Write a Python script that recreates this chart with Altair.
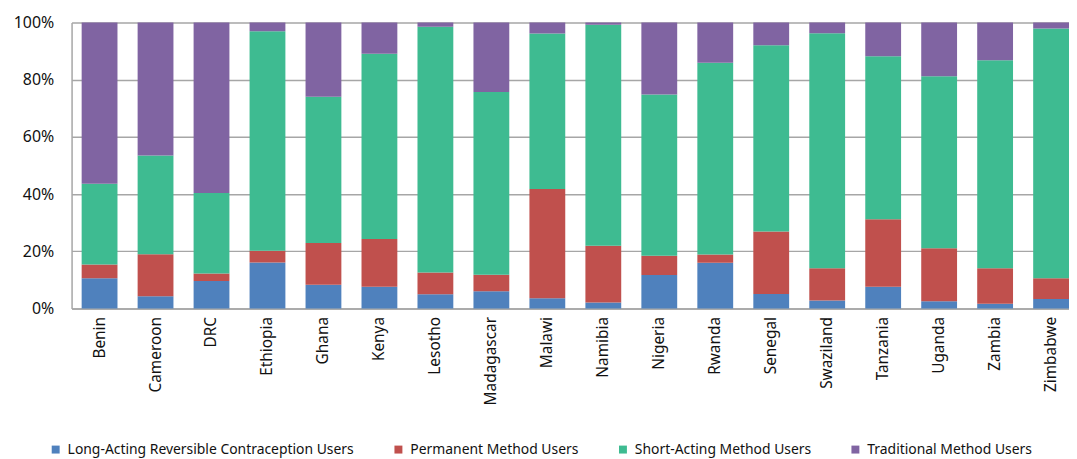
import altair as alt
import pandas as pd

countries = ["Benin", "Cameroon", "DRC", "Ethiopia", "Ghana", "Kenya", "Lesotho",
             "Madagascar", "Malawi", "Namibia", "Nigeria", "Rwanda", "Senegal",
             "Swaziland", "Tanzania", "Uganda", "Zambia", "Zimbabwe"]
series = ["Long-Acting Reversible Contraception Users", "Permanent Method Users",
          "Short-Acting Method Users", "Traditional Method Users"]
larc = [10.6, 4.3, 9.6, 16.1, 8.3, 7.6, 5.0, 6.0, 3.6, 2.1, 11.7, 16.0, 5.1, 2.8, 7.6, 2.5, 1.7, 3.3]
permanent = [4.8, 14.7, 2.6, 4.1, 14.6, 16.7, 7.6, 5.8, 38.2, 19.8, 6.7, 2.9, 21.8, 11.3, 23.6, 18.6, 12.4, 7.3]
short = [28.2, 34.5, 28.2, 76.7, 51.1, 64.7, 85.9, 63.9, 54.3, 77.3, 56.4, 67.0, 65.1, 82.1, 57.0, 60.1, 72.7, 87.3]
traditional = [56.4, 46.5, 59.6, 3.1, 26.0, 11.0, 1.5, 24.3, 3.9, 0.8, 25.2, 14.1, 8.0, 3.8, 11.8, 18.8, 13.2, 2.1]
colors = ["#4F81BD", "#C0504D", "#3EBB91", "#8064A2"]

rows = []
for i, c in enumerate(countries):
    for k, (s, vals) in enumerate(zip(series, [larc, permanent, short, traditional])):
        rows.append({"country": c, "series": s, "value": vals[i], "order": k})
df = pd.DataFrame(rows)

chart = alt.Chart(df).mark_bar().encode(
    x=alt.X("country:N", sort=countries, title=None,
            scale=alt.Scale(paddingInner=0.36, paddingOuter=0.09, align=1),
            axis=alt.Axis(labelAngle=-90, labelFontSize=15.5, labelPadding=8, ticks=False,
                          domainColor="#A6A6A6", domainWidth=1.5, labelColor="#111111",
                          labelFont="Noto Sans")),
    y=alt.Y("value:Q", stack="normalize", title=None,
            scale=alt.Scale(domain=[0, 1]),
            axis=alt.Axis(format=".0%", values=[0, 0.2, 0.4, 0.6, 0.8, 1.0], labelFontSize=16,
                          labelPadding=18, ticks=False, domainColor="#A6A6A6", domainWidth=1.5,
                          gridColor="#A6A6A6", gridWidth=1.5, labelColor="#111111",
                          labelFont="Noto Sans")),
    color=alt.Color("series:N", sort=series, title=None,
                    scale=alt.Scale(domain=series, range=colors),
                    legend=alt.Legend(orient="none", direction="horizontal", legendX=-23,
                                      legendY=423, symbolType="square", symbolSize=64,
                                      symbolStrokeWidth=0, labelFontSize=14, labelFont="Noto Sans",
                                      labelColor="#111111", columnPadding=37, symbolOffset=0,
                                      labelOffset=5, labelLimit=0)),
    order=alt.Order("order:Q", sort="ascending"),
).properties(
    width=1004, height=288,
    padding={"left": 5, "top": 5, "right": 0, "bottom": 0},
).configure_view(stroke=None).configure_axisX(grid=False)

chart.save("out.html", embed_options={"renderer": "svg", "actions": False})
